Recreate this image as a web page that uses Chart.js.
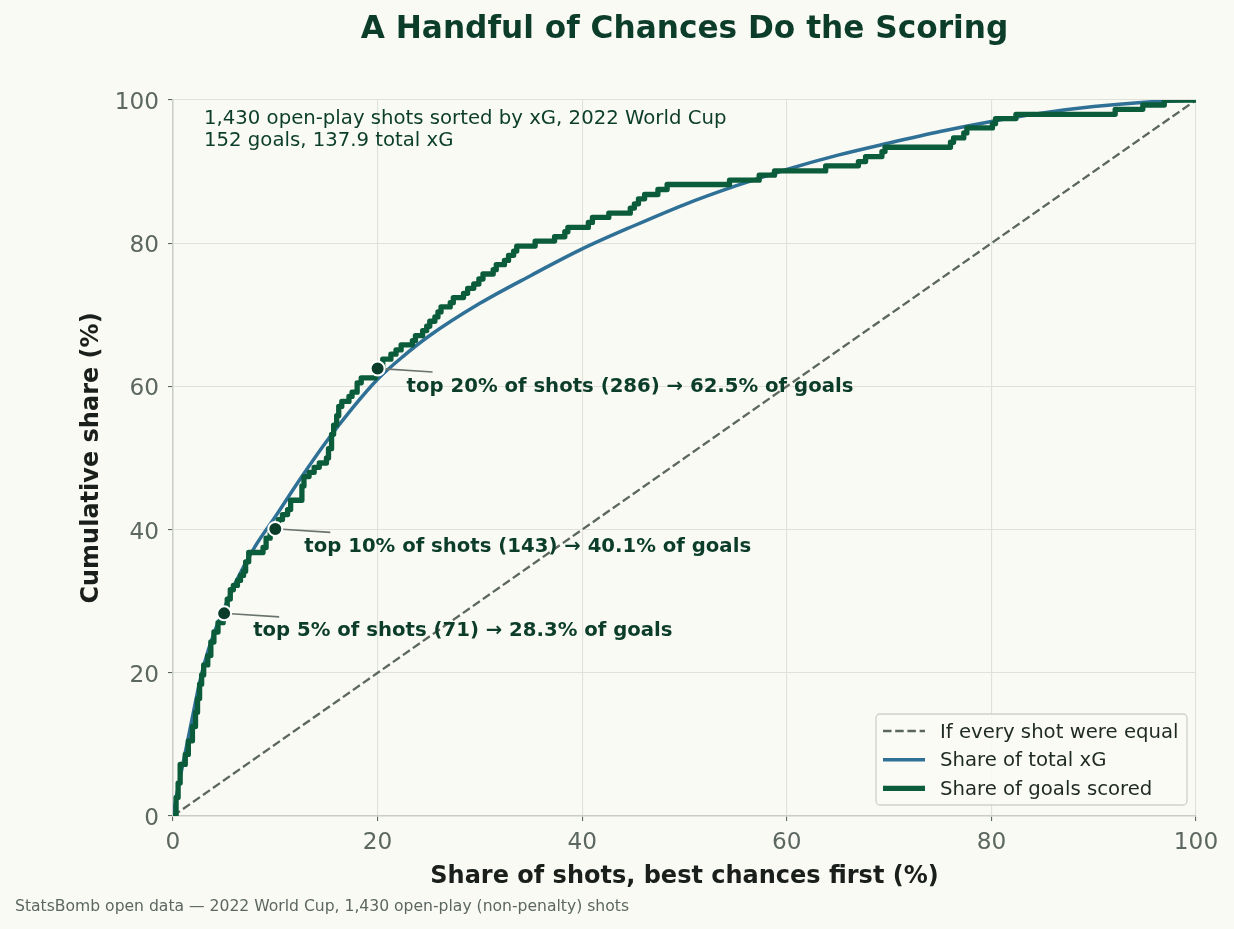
<!DOCTYPE html>
<html><head><meta charset="utf-8">
<script src="https://cdn.jsdelivr.net/npm/chart.js@4.4.1/dist/chart.umd.min.js"></script>
<style>html,body{margin:0;padding:0;background:#fafaf4;}canvas{display:block}</style>
</head><body>
<canvas id="c" width="1234" height="929"></canvas>
<script>
// ---- data ----
const xTickValues = [0, 20, 40, 60, 80, 100];
const yTickValues = [0, 20, 40, 60, 80, 100];

const equalX = [0, 100];
const equalY = [0, 100];

const xgX = [0,0.5,1,1.5,2,2.5,3,4,5,6,8,10,12.5,15,17.5,20,22.5,25,30,35,40,45,50,55,60,65,70,75,80,85,90,95,100];
const xgY = [0,4,7.5,11,14.5,18,21,25.5,29,32.3,37.6,41.8,47.2,52.3,56.9,61.0,64.2,67.0,71.6,75.5,79.2,82.4,85.4,88,90.3,92.3,94,95.6,97,98.2,99.1,99.7,100];

const goalX = [0,0.3,0.5,0.7,1.2,1.5,1.9,2.2,2.4,2.6,2.8,3.0,3.4,3.7,4.0,4.4,4.9,5.3,5.6,5.9,6.3,6.6,6.9,7.1,7.4,8.8,9.1,9.5,9.9,10.3,10.7,11.2,11.5,12.6,12.8,13.3,13.8,14.3,15.0,15.2,15.5,15.7,16.0,16.2,16.5,17.2,17.5,18.0,18.4,19.8,20.0,20.5,21.3,21.8,22.3,23.4,23.7,24.4,24.8,25.1,25.6,25.9,26.2,27.1,27.4,28.4,28.8,29.4,29.9,30.3,31.3,31.6,32.4,32.8,33.3,33.6,35.4,37.3,38.3,38.6,40.6,41.0,42.6,44.7,45.1,45.5,46.1,47.4,48.3,54.4,57.3,58.8,63.8,67.0,67.7,69.3,69.6,76.0,76.3,77.3,77.6,80.1,80.4,82.4,92.1,94.8,96.9,100];
const goalY = [0,2.6,4.6,7.2,8.6,10.5,12.5,14.5,16.4,18.4,19.7,21.1,22.4,24.3,25.7,27.0,28.3,30.3,31.6,32.2,32.9,33.6,34.2,35.5,36.8,37.5,38.8,39.5,40.1,41.4,42.1,42.8,44.1,46.1,47.4,48.0,48.7,49.3,50.0,51.3,53.3,54.6,55.9,57.2,57.9,58.6,59.2,60.5,61.2,61.8,62.5,63.8,64.5,65.1,65.8,66.4,67.1,67.8,68.4,69.1,69.7,70.4,71.1,71.7,72.4,73.0,73.7,74.3,75.0,75.7,76.3,77.0,77.6,78.3,78.9,79.6,80.3,80.9,81.6,82.2,82.9,83.6,84.2,84.9,85.5,86.2,86.8,87.5,88.2,88.8,89.5,90.1,90.8,91.4,92.1,92.8,93.4,94.1,94.7,95.4,96.1,96.7,97.4,98.0,98.7,99.3,100,100];

const annotX = [5, 10, 20];
const annotY = [28.3, 40.1, 62.5];
const annotLabels = [
  'top 5% of shots (71) \u2192 28.3% of goals',
  'top 10% of shots (143) \u2192 40.1% of goals',
  'top 20% of shots (286) \u2192 62.5% of goals'
];

const titleText = 'A Handful of Chances Do the Scoring';
const noteLines = ['1,430 open-play shots sorted by xG, 2022 World Cup', '152 goals, 137.9 total xG'];
const footerText = 'StatsBomb open data \u2014 2022 World Cup, 1,430 open-play (non-penalty) shots';
const xTitle = 'Share of shots, best chances first (%)';
const yTitle = 'Cumulative share (%)';
const legendLabels = ['If every shot were equal', 'Share of total xG', 'Share of goals scored'];

// ---- styles ----
const FONT = "'DejaVu Sans', 'Liberation Sans', sans-serif";
const BG = '#fafaf4';
const DARK = '#0b3d2a';
const GREEN = '#0b5c3b';
const BLUE = '#2f7096';
const GREY = '#5b665f';
const TICK = '#5c6762';

const pts = (xs, ys) => xs.map((x, i) => ({x: x, y: ys[i]}));

const deco = {
  id: 'deco',
  beforeDraw(chart) {
    const c = chart.ctx;
    c.save();
    c.fillStyle = BG;
    c.fillRect(0, 0, chart.width, chart.height);
    c.restore();
  },
  beforeDatasetDraw(chart, args) {
    if (args.index !== 0) return;
    const c = chart.ctx, xs = chart.scales.x, ys = chart.scales.y;
    c.save();
    c.strokeStyle = '#6b736e';
    c.lineWidth = 1.6;
    annotX.forEach((v, i) => {
      const px = xs.getPixelForValue(v), py = ys.getPixelForValue(annotY[i]);
      c.beginPath();
      c.moveTo(px + 7, py + 0.4);
      c.lineTo(px + 55, py + 3.5);
      c.stroke();
    });
    c.restore();
  },
  afterDraw(chart) {
    const c = chart.ctx, a = chart.chartArea, xs = chart.scales.x, ys = chart.scales.y;
    c.save();
    // title
    c.fillStyle = DARK;
    c.font = 'bold 31.2px ' + FONT;
    c.textAlign = 'center';
    c.textBaseline = 'middle';
    c.fillText(titleText, (a.left + a.right) / 2, 30);
    // note inside plot
    c.font = '19.7px ' + FONT;
    c.textAlign = 'left';
    c.fillText(noteLines[0], a.left + 31, 118.5);
    c.fillText(noteLines[1], a.left + 31, 140.5);
    // annotations
    c.font = 'bold 19.7px ' + FONT;
    annotX.forEach((v, i) => {
      const px = xs.getPixelForValue(v), py = ys.getPixelForValue(annotY[i]);
      c.fillText(annotLabels[i], px + 29, py + 18);
    });
    // footer
    c.fillStyle = TICK;
    c.font = '15.6px ' + FONT;
    c.fillText(footerText, 15, 907);
    // legend
    const bw = 311, bh = 91;
    const bx = a.right - 9 - bw, by = a.bottom - 11 - bh;
    c.beginPath();
    c.roundRect(bx, by, bw, bh, 4);
    c.fillStyle = 'rgba(250,250,244,0.85)';
    c.fill();
    c.strokeStyle = '#d0d0cc';
    c.lineWidth = 1.3;
    c.stroke();
    const styles = [
      {color: GREY, width: 2.3, dash: [8.5, 3.7]},
      {color: BLUE, width: 3.5, dash: []},
      {color: GREEN, width: 5.3, dash: []}
    ];
    legendLabels.forEach((lab, i) => {
      const ry = by + 17 + i * 28.7;
      c.beginPath();
      c.setLineDash(styles[i].dash);
      c.strokeStyle = styles[i].color;
      c.lineWidth = styles[i].width;
      c.moveTo(bx + 7, ry);
      c.lineTo(bx + 49, ry);
      c.stroke();
      c.setLineDash([]);
      c.fillStyle = '#1f2a24';
      c.font = '19.7px ' + FONT;
      c.textBaseline = 'middle';
      c.fillText(lab, bx + 64, ry + 1.5);
    });
    c.restore();
  }
};

new Chart(document.getElementById('c'), {
  type: 'scatter',
  data: {
    datasets: [
      {label: 'milestones', data: pts(annotX, annotY), pointRadius: 7, pointHoverRadius: 7,
       pointBackgroundColor: DARK, pointBorderColor: '#ffffff', pointBorderWidth: 2, showLine: false},
      {label: legendLabels[2], data: pts(goalX, goalY), showLine: true, stepped: true,
       borderColor: GREEN, borderWidth: 5.3, pointRadius: 0, borderJoinStyle: 'round'},
      {label: legendLabels[1], data: pts(xgX, xgY), showLine: true, cubicInterpolationMode: 'monotone',
       borderColor: BLUE, borderWidth: 3.5, pointRadius: 0},
      {label: legendLabels[0], data: pts(equalX, equalY), showLine: true,
       borderColor: GREY, borderWidth: 2.3, borderDash: [8.5, 3.7], pointRadius: 0}
    ]
  },
  options: {
    responsive: false,
    animation: false,
    devicePixelRatio: 1,
    layout: {padding: {top: 100, right: 38, left: 0, bottom: 0}},
    plugins: {legend: {display: false}, tooltip: {enabled: false}, title: {display: false}},
    scales: {
      x: {
        type: 'linear', min: 0, max: 100,
        afterBuildTicks: s => { s.ticks = xTickValues.map(v => ({value: v})); },
        ticks: {color: TICK, font: {size: 23.2, family: FONT}, padding: 8, maxRotation: 0},
        grid: {color: '#e0e1da', lineWidth: 1.1, tickColor: TICK, tickLength: 5},
        border: {color: '#c8cdc8', width: 1.5},
        title: {display: true, text: xTitle, color: '#1a1f1c', font: {size: 24, weight: 'bold', family: FONT}, padding: {top: 0, bottom: 38}},
        afterFit: s => { s.height = 113; }
      },
      y: {
        type: 'linear', min: 0, max: 100,
        afterBuildTicks: s => { s.ticks = yTickValues.map(v => ({value: v})); },
        ticks: {color: TICK, font: {size: 23.2, family: FONT}, padding: 9, labelOffset: 3},
        grid: {color: '#e0e1da', lineWidth: 1.1, tickColor: TICK, tickLength: 5},
        border: {color: '#c8cdc8', width: 1.5},
        title: {display: true, text: yTitle, color: '#1a1f1c', font: {size: 24, weight: 'bold', family: FONT}, padding: {top: 77, bottom: 0}},
        afterFit: s => { s.width = 173; }
      }
    }
  },
  plugins: [deco]
});
</script>
</body></html>
